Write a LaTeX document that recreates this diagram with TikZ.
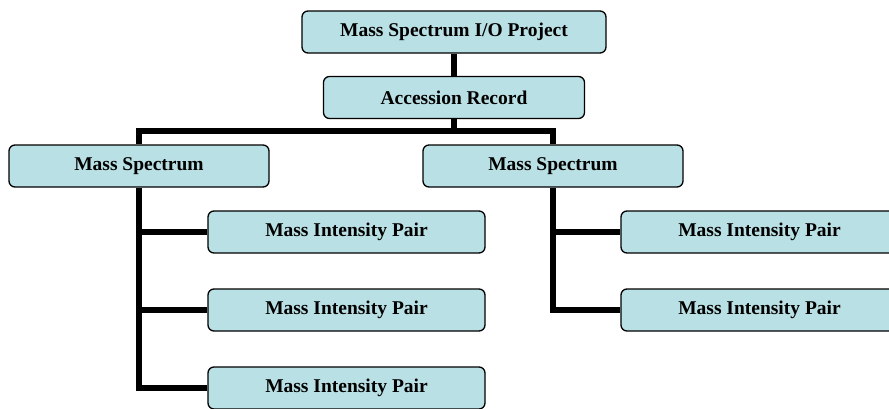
\documentclass[tikz,border=0pt]{standalone}
\usepackage{fontspec}
\setmainfont{Liberation Serif}
\usetikzlibrary{positioning}
\definecolor{boxcyan}{RGB}{185,224,228}

\begin{document}
\begin{tikzpicture}[x=1pt,y=-1pt,line join=miter]
\tikzset{BoxStyle/.style = {draw,line width=1.3pt,rounded corners=6pt,fill=boxcyan,
                            minimum height=42pt,inner sep=0pt,
                            font=\fontsize{19.5}{22}\selectfont\bfseries},
         Wire/.style = {line width=6pt}}
\useasboundingbox (0,0) rectangle (889,408);

\node[BoxStyle,minimum width=304pt] (proj) at (454,32)  {Mass Spectrum I/O Project};
\node[BoxStyle,minimum width=261pt] (acc)  at (454,97.5){Accession Record};
\node[BoxStyle,minimum width=260pt] (msl)  at (139,166) {Mass Spectrum};
\node[BoxStyle,minimum width=260pt] (msr)  at (553,166) {Mass Spectrum};
\node[BoxStyle,minimum width=277pt] (mipa) at (346.5,232) {Mass Intensity Pair};
\node[BoxStyle,minimum width=277pt] (mipb) at (346.5,310) {Mass Intensity Pair};
\node[BoxStyle,minimum width=277pt] (mipc) at (346.5,388) {Mass Intensity Pair};
\node[BoxStyle,minimum width=277pt] (mipd) at (759.5,232) {Mass Intensity Pair};
\node[BoxStyle,minimum width=277pt] (mipe) at (759.5,310) {Mass Intensity Pair};

\coordinate (bus) at (454,131);
\draw[Wire] (proj) -- (acc);
\draw[Wire] (acc) -- (bus);
\draw[Wire] (msl.north) |- (bus) -| (msr.north);
\draw[Wire] (msl.south) |- (mipa.west) (msl.south) |- (mipb.west)
            (msl.south) |- (mipc.west);
\draw[Wire] (msr.south) |- (mipd.west) (msr.south) |- (mipe.west);
\end{tikzpicture}
\end{document}
